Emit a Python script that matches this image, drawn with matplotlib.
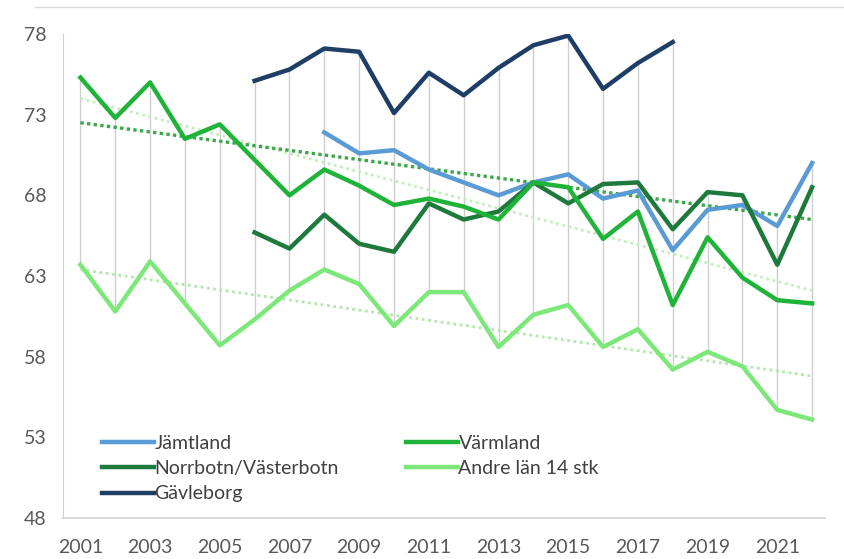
import matplotlib
matplotlib.use("Agg")
import matplotlib.pyplot as plt
from matplotlib.lines import Line2D
import numpy as np

years = list(range(2001, 2023))

jamtland_years = list(range(2008, 2023))
jamtland = [71.9, 70.6, 70.8, 69.6, 68.8, 68.0, 68.8, 69.3, 67.8, 68.3,
            64.6, 67.1, 67.4, 66.1, 70.0]

varmland_years = list(range(2001, 2023))
varmland = [75.3, 72.8, 75.0, 71.5, 72.4, 70.2, 68.0, 69.6, 68.6, 67.4, 67.8,
            67.3, 66.5, 68.8, 68.5, 65.3, 67.0, 61.2, 65.4, 62.9, 61.5, 61.3]

norrbotn_years = list(range(2006, 2023))
norrbotn = [65.7, 64.7, 66.8, 65.0, 64.5, 67.5, 66.5, 67.0, 68.8, 67.5, 68.7,
            68.8, 65.9, 68.2, 68.0, 63.7, 68.5]

andre_years = list(range(2001, 2023))
andre = [63.7, 60.8, 63.9, 61.3, 58.7, 60.3, 62.1, 63.4, 62.5, 59.9, 62.0,
         62.0, 58.6, 60.6, 61.2, 58.6, 59.7, 57.2, 58.3, 57.4, 54.7, 54.1]

gavleborg_years = list(range(2006, 2019))
gavleborg = [75.1, 75.8, 77.1, 76.9, 73.1, 75.6, 74.2, 75.9, 77.3, 77.9,
             74.6, 76.2, 77.5]

# dotted trend lines (start/end values at 2001 and 2022)
trend_years = [2001, 2022]
trend_main = [72.5, 66.5]
trend_varmland = [74.0, 62.1]
trend_andre = [63.4, 56.8]

legend_labels = ["Jämtland", "Värmland", "Norrbotn/Västerbotn",
                 "Andre län 14 stk", "Gävleborg"]
xtick_labels = [str(y) for y in range(2001, 2022, 2)]
yticks = [48, 53, 58, 63, 68, 73, 78]

c_jam = "#5b9bd5"
c_var = "#1fb33a"
c_nor = "#1e7a3c"
c_and = "#7de87a"
c_gav = "#1f3e66"

plt.rcParams['font.family'] = ['Lato', 'DejaVu Sans']

fig = plt.figure(figsize=(8.45, 5.59), dpi=100)
ax = fig.add_axes([63/845, 41/559, 762/845, 484/559])

# high-low lines
series = [(jamtland_years, jamtland), (varmland_years, varmland),
          (norrbotn_years, norrbotn), (andre_years, andre),
          (gavleborg_years, gavleborg)]
hl_x, hl_lo, hl_hi = [], [], []
for y in years:
    vals = [v[yrs.index(y)] for yrs, v in series if y in yrs]
    if len(vals) > 1:
        hl_x.append(y); hl_lo.append(min(vals)); hl_hi.append(max(vals))
ax.vlines(hl_x, hl_lo, hl_hi, color="#cfcfcf", lw=1.0, zorder=1)

# trend lines
ax.plot(trend_years, trend_varmland, color="#c4eebe", lw=2.0,
        linestyle=(0, (1, 1.3)), zorder=2)
ax.plot(trend_years, trend_andre, color="#b2e8ac", lw=2.0,
        linestyle=(0, (1, 1.3)), zorder=2)
ax.plot(trend_years, trend_main, color="#3aa84a", lw=2.4,
        linestyle=(0, (1, 1.0)), zorder=2)

lw = 3.2
l_jam, = ax.plot(jamtland_years, jamtland, color=c_jam, lw=lw, zorder=4, solid_joinstyle='round')
l_nor, = ax.plot(norrbotn_years, norrbotn, color=c_nor, lw=lw, zorder=4, solid_joinstyle='round')
l_gav, = ax.plot(gavleborg_years, gavleborg, color=c_gav, lw=lw, zorder=4, solid_joinstyle='round')
l_var, = ax.plot(varmland_years, varmland, color=c_var, lw=lw, zorder=5, solid_joinstyle='round')
l_and, = ax.plot(andre_years, andre, color=c_and, lw=lw, zorder=4, solid_joinstyle='round')

ax.set_xlim(2000.5, 2022.37)
ax.set_ylim(48, 78)
ax.set_yticks(yticks)
ax.set_xticks(list(range(2001, 2022, 2)))
ax.set_xticklabels(xtick_labels)
ax.tick_params(axis='both', length=0, labelsize=14, colors="#595959")
ax.tick_params(axis='y', pad=12)
ax.tick_params(axis='x', pad=15)
for s in ["top", "right"]:
    ax.spines[s].set_visible(False)
ax.spines["left"].set_color("#d0d0d0")
ax.spines["bottom"].set_color("#d0d0d0")
ax.spines["bottom"].set_linewidth(1.2)

leg_kw = dict(loc="upper left", frameon=False, fontsize=14, handlelength=2.65,
              handletextpad=0.05, labelspacing=0.42, borderpad=0, borderaxespad=0,
              labelcolor="#404040")
leg1 = fig.legend([l_jam, l_nor, l_gav],
                  [legend_labels[0], legend_labels[2], legend_labels[4]],
                  bbox_to_anchor=(102/845, 1 - 435/559), **leg_kw)
leg2 = fig.legend([l_var, l_and], [legend_labels[1], legend_labels[3]],
                  bbox_to_anchor=(406/845, 1 - 435/559), **leg_kw)

# outer frame line at top
fig.add_artist(Line2D([35/845, 1.0], [1 - 7/559, 1 - 7/559], color="#dddddd", lw=1.0))

fig.savefig("out.png", dpi=100, facecolor="white")
